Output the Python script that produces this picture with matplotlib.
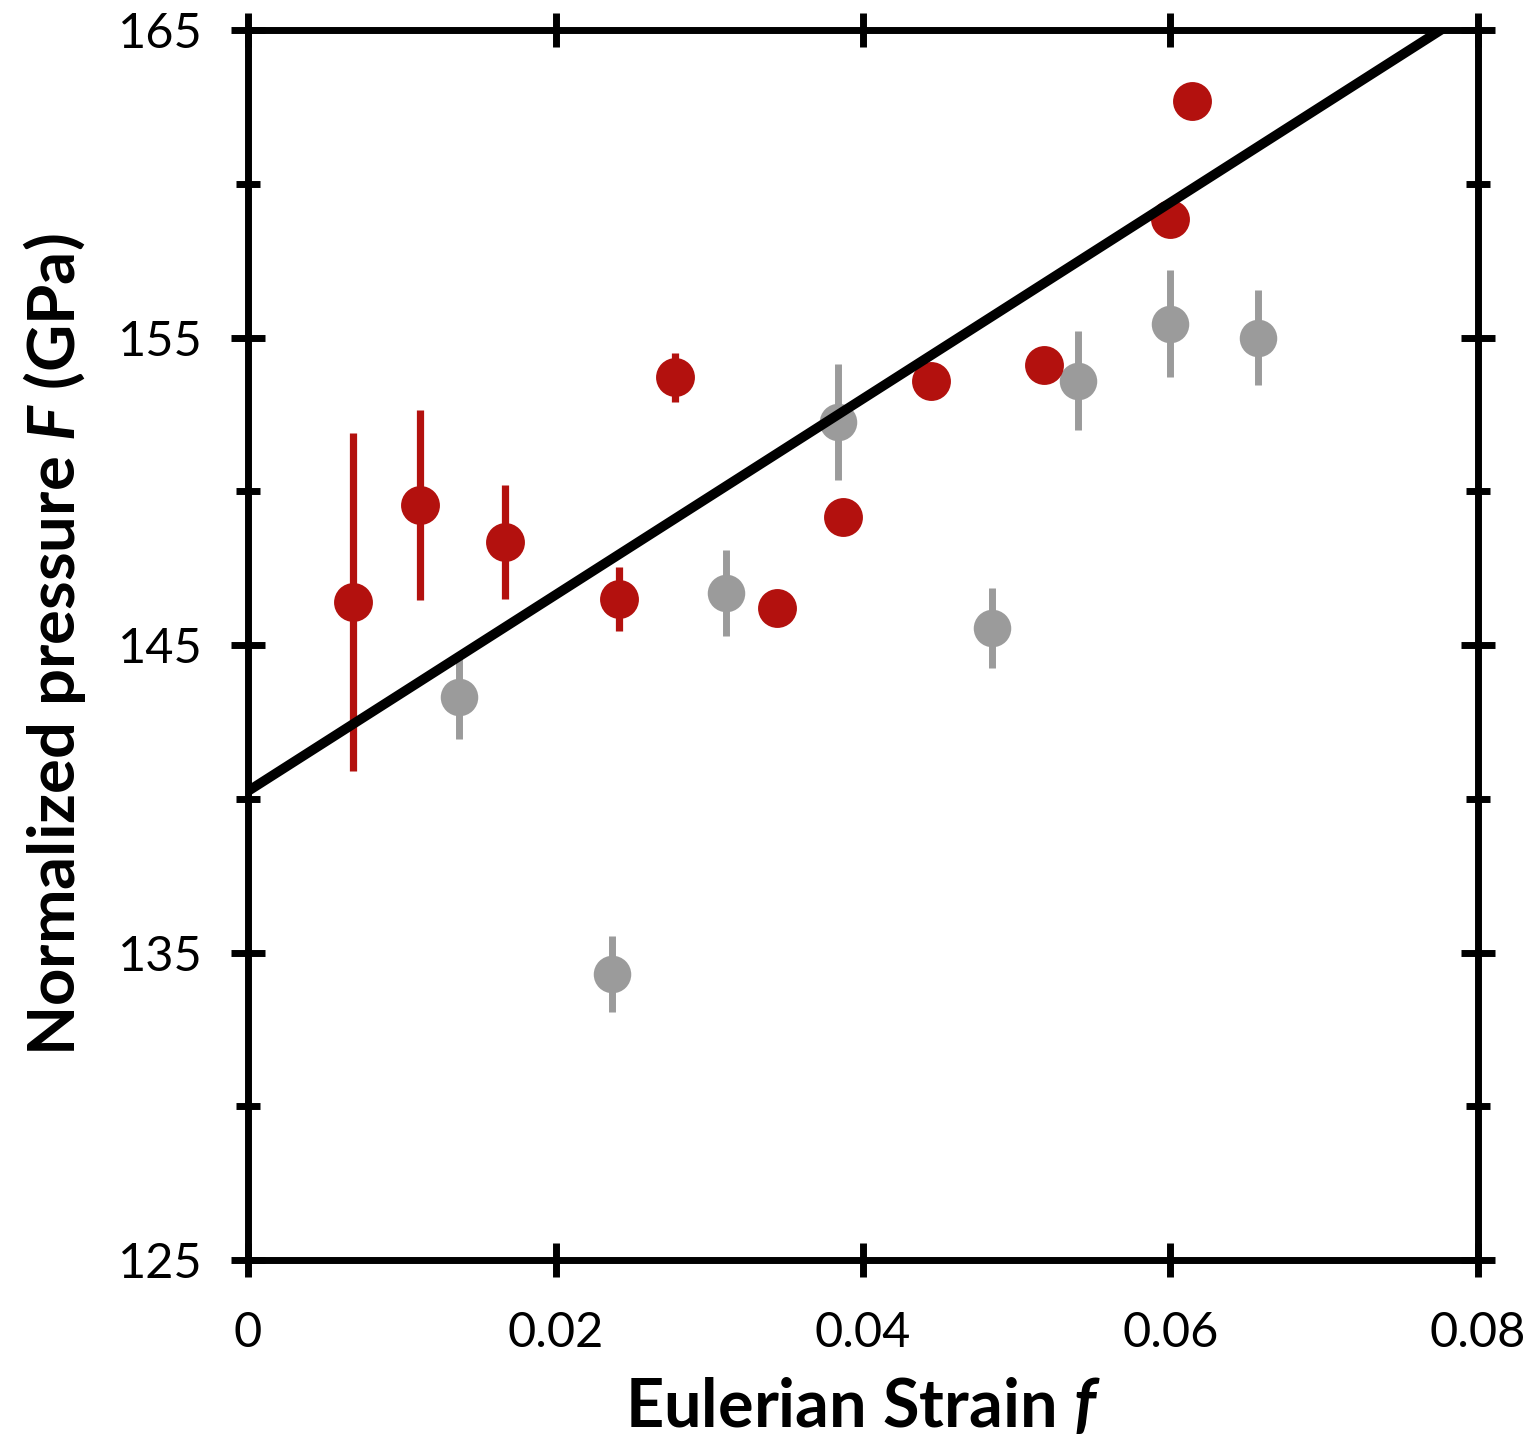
import matplotlib.pyplot as plt
import numpy as np

plt.rcParams['font.family'] = ['Lato', 'DejaVu Sans']
plt.rcParams['mathtext.fontset'] = 'custom'
plt.rcParams['mathtext.bfit'] = 'Lato:italic:bold'
plt.rcParams['mathtext.it'] = 'Lato:italic:bold'

# red series (with error bars where visible)
red_x = [0.0068, 0.0112, 0.0167, 0.0241, 0.0278, 0.0344, 0.0387, 0.0444, 0.0518, 0.0600, 0.0614]
red_y = [146.4, 149.55, 148.35, 146.5, 153.7, 146.2, 149.15, 153.6, 154.1, 158.85, 162.7]
red_err = [5.5, 3.1, 1.85, 1.05, 0.8, 0.0, 0.0, 0.0, 0.0, 0.0, 0.0]

# gray series
gray_x = [0.0137, 0.0237, 0.0311, 0.0384, 0.0484, 0.0540, 0.0600, 0.0657]
gray_y = [143.3, 134.3, 146.7, 152.25, 145.55, 153.6, 155.45, 155.0]
gray_err = [1.35, 1.25, 1.4, 1.9, 1.3, 1.6, 1.75, 1.55]

# linear fit F = F0 + slope * f
fit_F0 = 140.25
fit_slope = 319.0

RED = '#b3110e'
GRAY = '#9b9b9b'

fig = plt.figure(figsize=(15.36, 14.42), dpi=100)
ax = fig.add_axes([0.1615, 0.1262, 0.8007, 0.853])

ax.errorbar(gray_x, gray_y, yerr=gray_err, fmt='o', color=GRAY, ms=27,
            elinewidth=5, capsize=0, mew=0, zorder=2)
ax.errorbar(red_x, red_y, yerr=red_err, fmt='o', color=RED, ms=28,
            elinewidth=5.2, capsize=0, mew=0, zorder=3)

fx = np.array([0.0, 0.08])
ax.plot(fx, fit_F0 + fit_slope * fx, color='black', lw=7, zorder=4,
        solid_capstyle='butt')

ax.set_xlim(0, 0.08)
ax.set_ylim(125, 165)
ax.set_xticks([0, 0.02, 0.04, 0.06, 0.08])
ax.set_xticklabels(['0', '0.02', '0.04', '0.06', '0.08'])
ax.set_yticks([125, 135, 145, 155, 165])
ax.set_yticks([130, 140, 150, 160], minor=True)

for s in ax.spines.values():
    s.set_linewidth(5)
ax.tick_params(which='major', direction='inout', length=25, width=5,
               labelsize=35, top=True, right=True, pad=20)
ax.tick_params(axis='x', which='major', pad=24)
ax.tick_params(which='minor', direction='inout', length=17, width=5,
               left=True, right=True)

ax.set_xlabel(r'Eulerian Strain $\mathit{f}$', fontsize=48, fontweight='bold', labelpad=16)
ax.set_ylabel(r'Normalized pressure $\mathit{F}$ (GPa)', fontsize=47, fontweight='bold', labelpad=22)

fig.savefig('out.png', dpi=100)
